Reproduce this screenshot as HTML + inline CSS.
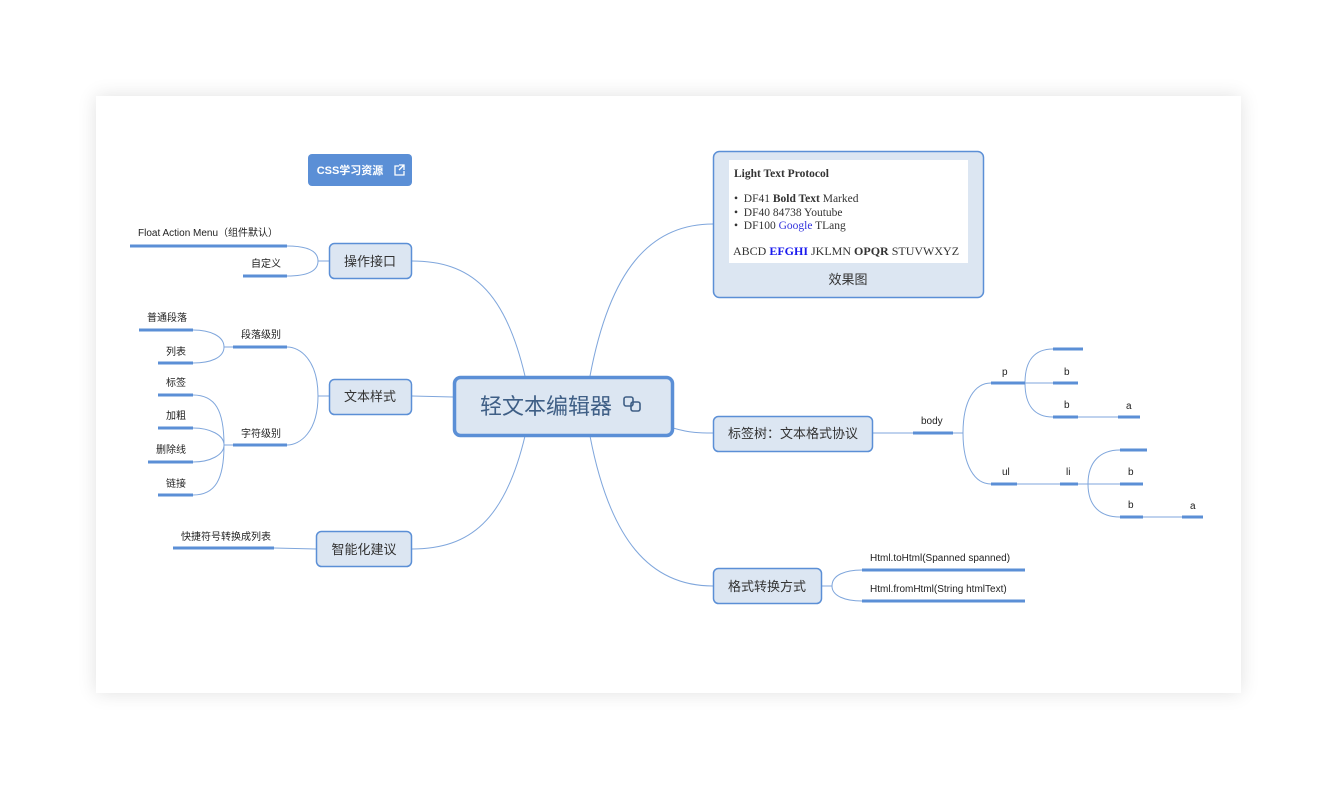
<!DOCTYPE html>
<html><head><meta charset="utf-8"><style>
html,body{margin:0;padding:0;background:#fff;}
body{width:1336px;height:789px;position:relative;overflow:hidden;font-family:"Liberation Sans","Noto Sans CJK SC",sans-serif;}
.card{position:absolute;left:96px;top:96px;width:1145px;height:597px;background:#fff;box-shadow:0 0 18px rgba(0,0,0,0.12);}
svg{position:absolute;left:0;top:0;}
.t{font-family:"Liberation Sans","Noto Sans CJK SC",sans-serif;font-size:10px;fill:#222;}
.n{font-family:"Liberation Sans","Noto Sans CJK SC",sans-serif;font-size:13px;fill:#333;text-anchor:middle;}
.s{font-family:"Liberation Serif","Noto Serif CJK SC",serif;font-size:11.5px;fill:#333;}
</style></head><body>
<div class="card"></div>
<svg width="1336" height="789" viewBox="0 0 1336 789">
<g fill="none" stroke="#7fa6dc" stroke-width="1">
<path d="M525 376 C505 290 470 261 412 261"/>
<path d="M453 397 L412 396"/>
<path d="M525 436 C505 520 470 549 412 549"/>
<path d="M590 376 C610 270 650 224 713 224"/>
<path d="M673 428 C690 433 700 433 713 433"/>
<path d="M590 436 C610 540 650 586 713 586"/>
<path d="M329 261 L318 261 M318 261 C318 250 305 246 287 246 M318 261 C318 272 305 276 287 276"/>
<path d="M329 396 L318 396 M318 396 C318 360 300 347 287 347 M318 396 C318 432 300 445 287 445"/>
<path d="M233 347 L224 347 M224 347 C224 336 210 330 193 330 M224 347 C224 358 210 363 193 363"/>
<path d="M233 445 L224 445 M224 445 C224 410 215 395 193 395 M224 445 C224 435 210 428 193 428 M224 445 C224 455 210 462 193 462 M224 445 C224 480 215 495 193 495"/>
<path d="M316 549 L274 548"/>
<path d="M873 433 L913 433"/>
<path d="M953 433 L963 433 M963 433 C963 400 975 383 991 383 M963 433 C963 466 975 484 991 484"/>
<path d="M1025 383 C1025 360 1035 349 1053 349 M1025 383 L1053 383 M1025 383 C1025 406 1035 417 1053 417 M1078 417 L1118 417"/>
<path d="M1017 484 L1060 484 M1078 484 L1088 484 M1088 484 C1088 462 1100 450 1120 450 M1088 484 L1120 484 M1088 484 C1088 506 1100 517 1120 517 M1143 517 L1182 517"/>
<path d="M822 586 L832 586 M832 586 C832 575 845 570 862 570 M832 586 C832 596 845 601 862 601"/>
</g>
<g stroke="#5b8fd6" stroke-width="3">
<line x1="130" y1="246" x2="287" y2="246"/><line x1="243" y1="276" x2="287" y2="276"/>
<line x1="233" y1="347" x2="287" y2="347"/><line x1="139" y1="330" x2="193" y2="330"/><line x1="158" y1="363" x2="193" y2="363"/>
<line x1="233" y1="445" x2="287" y2="445"/><line x1="158" y1="395" x2="193" y2="395"/><line x1="158" y1="428" x2="193" y2="428"/><line x1="148" y1="462" x2="193" y2="462"/><line x1="158" y1="495" x2="193" y2="495"/>
<line x1="173" y1="548" x2="274" y2="548"/>
<line x1="913" y1="433" x2="953" y2="433"/>
<line x1="991" y1="383" x2="1025" y2="383"/><line x1="991" y1="484" x2="1017" y2="484"/>
<line x1="1053" y1="349" x2="1083" y2="349"/><line x1="1053" y1="383" x2="1078" y2="383"/><line x1="1053" y1="417" x2="1078" y2="417"/><line x1="1118" y1="417" x2="1140" y2="417"/>
<line x1="1060" y1="484" x2="1078" y2="484"/>
<line x1="1120" y1="450" x2="1147" y2="450"/><line x1="1120" y1="484" x2="1143" y2="484"/><line x1="1120" y1="517" x2="1143" y2="517"/><line x1="1182" y1="517" x2="1203" y2="517"/>
<line x1="862" y1="570" x2="1025" y2="570"/><line x1="862" y1="601" x2="1025" y2="601"/>
</g>
<g class="t">
<text x="138" y="236">Float Action Menu（组件默认）</text>
<text x="251" y="267">自定义</text>
<text x="241" y="338">段落级别</text><text x="147" y="321">普通段落</text><text x="166" y="355">列表</text>
<text x="241" y="437">字符级别</text><text x="166" y="386">标签</text><text x="166" y="419">加粗</text><text x="156" y="453">删除线</text><text x="166" y="487">链接</text>
<text x="181" y="540">快捷符号转换成列表</text>
<text x="921" y="424">body</text><text x="1002" y="375">p</text><text x="1002" y="475">ul</text>
<text x="1064" y="375">b</text><text x="1064" y="408">b</text><text x="1126" y="409">a</text>
<text x="1066" y="475">li</text><text x="1128" y="475">b</text><text x="1128" y="508">b</text><text x="1190" y="509">a</text>
<text x="870" y="561">Html.toHtml(Spanned spanned)</text>
<text x="870" y="592">Html.fromHtml(String htmlText)</text>
</g>
<g fill="#dce6f2" stroke="#5b8fd6" stroke-width="1.5">
<rect x="329.5" y="243.5" width="82" height="35" rx="5"/>
<rect x="329.5" y="379.5" width="82" height="35" rx="5"/>
<rect x="316.5" y="531.5" width="95" height="35" rx="5"/>
<rect x="713.5" y="151.5" width="270" height="146" rx="6"/>
<rect x="713.5" y="416.5" width="159" height="35" rx="5"/>
<rect x="713.5" y="568.5" width="108" height="35" rx="5"/>
<rect x="454.5" y="377.5" width="218" height="58" rx="6" stroke-width="3.5"/>
</g>
<g class="n">
<text x="370" y="266">操作接口</text><text x="370" y="401">文本样式</text><text x="364" y="554">智能化建议</text>
<text x="793" y="438">标签树：文本格式协议</text><text x="767" y="591">格式转换方式</text>
<text x="848" y="284">效果图</text>
</g>
<text x="546" y="414" style="font-family:'Liberation Sans','Noto Sans CJK SC',sans-serif;font-size:22px;fill:#3f5f86;text-anchor:middle">轻文本编辑器</text>
<g fill="none" stroke="#3f5f86" stroke-width="1.6"><rect x="624" y="397" width="9" height="9" rx="2"/><rect x="631" y="402" width="9" height="9" rx="2"/></g>
<rect x="729" y="160" width="239" height="103" fill="#fff"/>
<g class="s">
<text x="734" y="177" font-weight="bold">Light Text Protocol</text>
<text x="734" y="202">•&#160;&#160;DF41 <tspan font-weight="bold">Bold Text</tspan> Marked</text>
<text x="734" y="216">•&#160;&#160;DF40 84738 Youtube</text>
<text x="734" y="229">•&#160;&#160;DF100 <tspan fill="#3333dd">Google</tspan> TLang</text>
<text x="733" y="255" font-size="12">ABCD <tspan fill="#1a1aee" font-weight="bold">EFGHI</tspan> JKLMN <tspan font-weight="bold">OPQR</tspan> STUVWXYZ</text>
</g>
<rect x="308" y="154" width="104" height="32" rx="4" fill="#5b8fd6"/>
<text x="350" y="174" style="font-family:'Liberation Sans','Noto Sans CJK SC',sans-serif;font-size:11px;font-weight:bold;fill:#fff;text-anchor:middle">CSS学习资源</text>
<g fill="none" stroke="#fff" stroke-width="1.3"><path d="M399 166 h-4 v9 h9 v-4"/><path d="M399 165 h5 v5 M404 165 l-5 5"/></g>
</svg>
</body></html>
